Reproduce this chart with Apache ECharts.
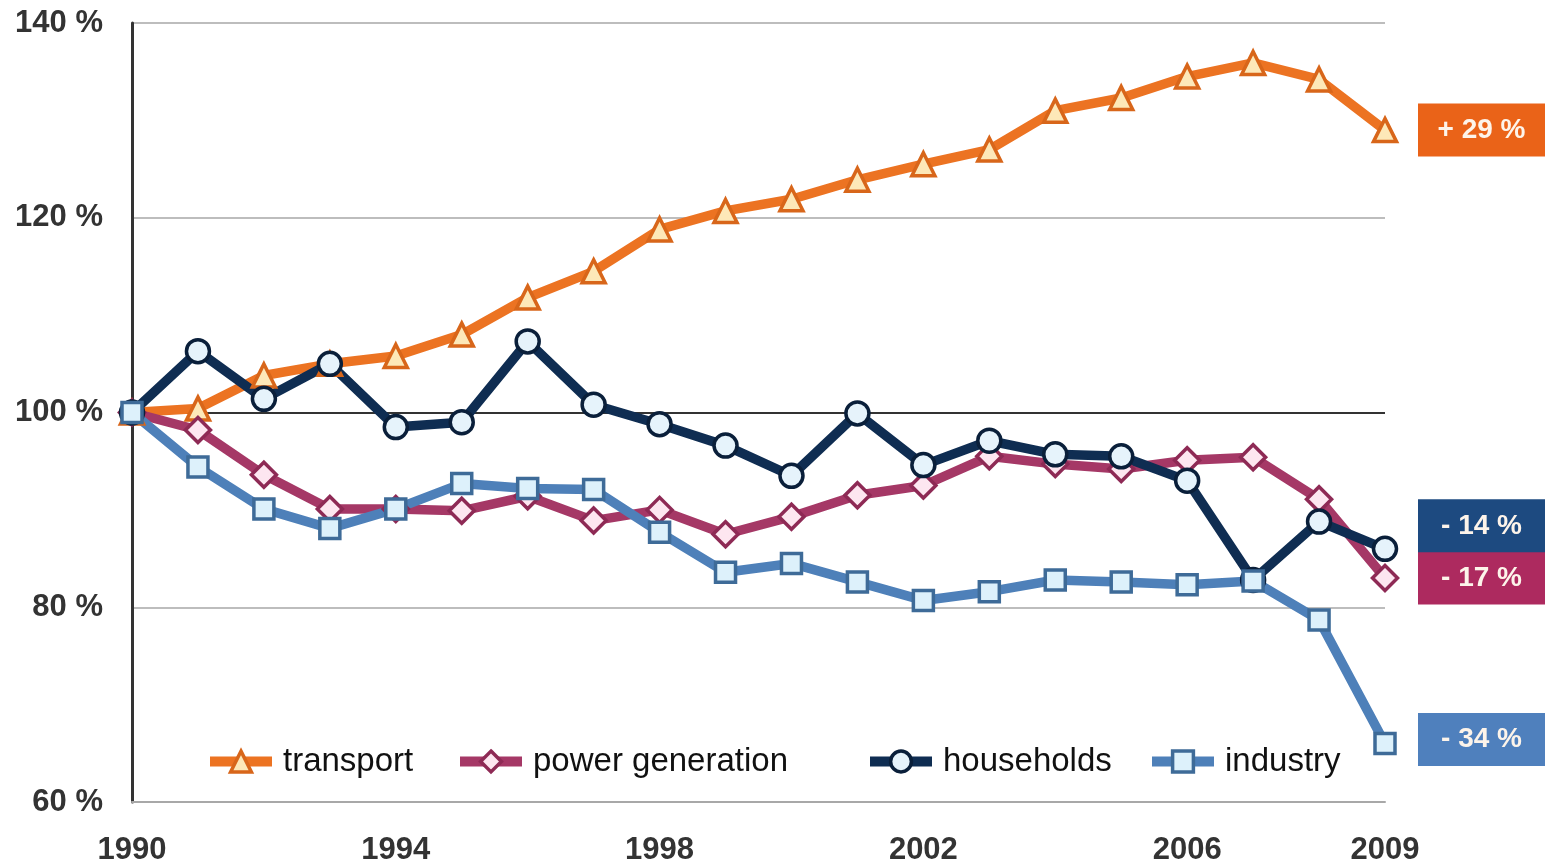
<!DOCTYPE html>
<html>
<head>
<meta charset="utf-8">
<title>Emissions by sector, 1990 = 100 %</title>
<script src="https://cdn.jsdelivr.net/npm/echarts@6/dist/echarts.min.js"></script>
<style>
  html, body { margin: 0; padding: 0; background: #ffffff; }
  #chart { width: 1547px; height: 865px; }
</style>
</head>
<body>
<div id="chart"></div>
<script>
// Years on the category axis
const years = ['1990','1991','1992','1993','1994','1995','1996','1997','1998','1999',
               '2000','2001','2002','2003','2004','2005','2006','2007','2008','2009'];
// Years that carry a tick label
const xTickLabels = ['1990','1994','1998','2002','2006','2009'];
// Y axis range (percent of 1990 level)
const yMin = 60, yMax = 140, yStep = 20;

// Index values per sector (1990 = 100 %)
const transport       = [100, 100.4, 103.8, 105.0, 105.8, 108.0, 111.8, 114.5, 118.8, 120.7,
                         121.9, 123.9, 125.5, 127.0, 131.0, 132.3, 134.5, 135.9, 134.2, 129];
const powerGeneration = [100, 98.2, 93.6, 90.1, 90.1, 89.9, 91.4, 88.9, 90.0, 87.5,
                         89.3, 91.5, 92.5, 95.5, 94.7, 94.2, 95.1, 95.4, 91.1, 83];
const households      = [100, 106.3, 101.4, 105.0, 98.5, 99.0, 107.3, 100.8, 98.8, 96.6,
                         93.5, 99.9, 94.6, 97.1, 95.7, 95.5, 93.0, 82.8, 88.8, 86];
const industry        = [100, 94.4, 90.1, 88.1, 90.1, 92.7, 92.2, 92.1, 87.7, 83.6,
                         84.5, 82.6, 80.7, 81.6, 82.8, 82.6, 82.3, 82.7, 78.7, 66];

const seriesNames = ['transport', 'power generation', 'households', 'industry'];

const chart = echarts.init(document.getElementById('chart'), null, { renderer: 'canvas' });

// Change since 1990 written in the boxes at the line ends
function changeText(v) {
  const d = Math.round(v - 100);
  return (d >= 0 ? '+ ' : '- ') + Math.abs(d) + ' %';
}

function makeSeries(name, data, style) {
  return {
    name: name,
    type: 'line',
    data: data,
    symbol: style.symbol,
    symbolSize: style.symbolSize,
    showAllSymbol: true,
    lineStyle: { color: style.line, width: 9.5, join: 'round', cap: 'round' },
    itemStyle: { color: style.fill, borderColor: style.border, borderWidth: 3.5 },
    emphasis: { disabled: true },
    endLabel: {
      show: true,
      distance: 33,
      offset: [0, style.labelShift || 0],
      formatter: (p) => '{b|' + changeText(p.value) + '}',
      backgroundColor: style.box,
      padding: [13, 18],
      rich: {
        b: {
          width: 91,
          align: 'center',
          color: '#fdf4ea',
          fontFamily: 'Liberation Sans, Arial, sans-serif',
          fontWeight: 'bold',
          fontSize: 28,
          lineHeight: 27
        }
      }
    }
  };
}

const legendBase = {
  orient: 'horizontal',
  itemWidth: 62,
  itemHeight: 26,
  selectedMode: false,
  lineStyle: { width: 10, cap: 'butt' },
  itemStyle: { borderWidth: 3.5 },
  textStyle: {
    fontFamily: 'Liberation Sans, Arial, sans-serif',
    fontSize: 33,
    color: '#111111',
    padding: [0, 0, 0, 6]
  }
};
const legendLefts = [200, 450, 860, 1142];

const option = {
  backgroundColor: '#ffffff',
  animation: false,
  grid: { left: 132, right: 162, top: 23, bottom: 63, outerBoundsMode: 'none' },
  legend: seriesNames.map((n, i) => Object.assign({}, legendBase, {
    data: [n], left: legendLefts[i], top: 740
  })),
  xAxis: {
    type: 'category',
    data: years,
    boundaryGap: false,
    axisLine: { show: true, lineStyle: { color: '#a8a8a8', width: 2 } },
    axisTick: { show: false },
    splitLine: { show: false },
    axisLabel: {
      interval: (i, v) => xTickLabels.includes(v),
      margin: 33,
      color: '#333333',
      fontFamily: 'Liberation Sans, Arial, sans-serif',
      fontWeight: 'bold',
      fontSize: 31
    }
  },
  yAxis: {
    type: 'value',
    min: yMin,
    max: yMax,
    interval: yStep,
    axisLine: { show: true, lineStyle: { color: '#333333', width: 3 } },
    axisTick: { show: false },
    splitLine: {
      show: true,
      lineStyle: { color: ['#a8a8a8', '#bdbdbd', '#333333', '#bdbdbd', '#bdbdbd'], width: 2 }
    },
    axisLabel: {
      formatter: (v) => v + ' %',
      margin: 29,
      color: '#333333',
      fontFamily: 'Liberation Sans, Arial, sans-serif',
      fontWeight: 'bold',
      fontSize: 31
    }
  },
  series: [
    makeSeries('transport', transport, {
      symbol: 'triangle', symbolSize: 23,
      line: '#ec7322', fill: '#fde8b8', border: '#d8661a', box: '#ea6318'
    }),
    makeSeries('power generation', powerGeneration, {
      symbol: 'diamond', symbolSize: 25,
      line: '#a53866', fill: '#fde6f0', border: '#8e2a55', box: '#ad2a5f'
    }),
    makeSeries('households', households, {
      symbol: 'circle', symbolSize: 23,
      line: '#0f2d52', fill: '#e6f3fb', border: '#0a1f3a', box: '#1d4a80', labelShift: -23
    }),
    makeSeries('industry', industry, {
      symbol: 'rect', symbolSize: 20,
      line: '#4e80b9', fill: '#ddf1fb', border: '#3e6b98', box: '#4f80bd', labelShift: -4
    })
  ]
};

chart.setOption(option);
</script>
</body>
</html>
